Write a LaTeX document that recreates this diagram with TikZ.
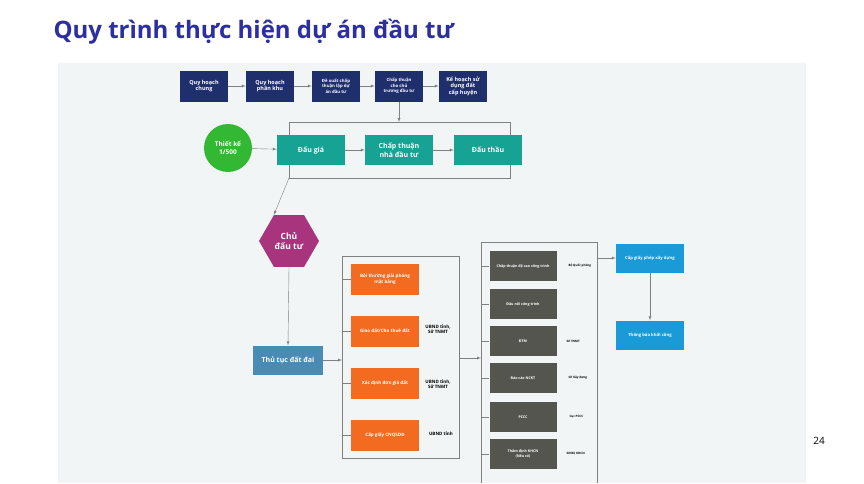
\documentclass[tikz,border=0pt]{standalone}
\usepackage{fontspec}
\setmainfont{Open Sans}
\usetikzlibrary{shapes.geometric}
\definecolor{navy}{HTML}{1F2F6E}
\definecolor{titleblue}{HTML}{2B2FA0}
\definecolor{tealc}{HTML}{16A394}
\definecolor{hexc}{HTML}{A8347E}
\definecolor{landc}{HTML}{4A8BB5}
\definecolor{orangec}{HTML}{F26B21}
\definecolor{darkc}{HTML}{555550}
\definecolor{bluec}{HTML}{1A9AD6}
\definecolor{panel}{HTML}{F2F5F5}
\tikzset{
  box/.style={draw=none,text=white,font=\bfseries,align=center,inner sep=1pt},
  plan/.style={box,fill=navy,minimum width=48pt,minimum height=31pt,font=\bfseries\fontsize{5.5}{6.5}\selectfont},
  phase/.style={box,fill=tealc,minimum width=68pt,minimum height=30pt,font=\bfseries\fontsize{7}{8.5}\selectfont},
  landbox/.style={box,fill=orangec,minimum width=68pt,minimum height=31pt,font=\bfseries\fontsize{4.5}{6}\selectfont},
  workbox/.style={box,fill=darkc,minimum width=67pt,minimum height=30pt,font=\bfseries\fontsize{3.6}{5}\selectfont},
  permit/.style={box,fill=bluec,minimum width=68pt,minimum height=29pt,font=\bfseries\fontsize{4.2}{5}\selectfont},
  note/.style={font=\bfseries\fontsize{4.5}{5.5}\selectfont,align=center},
  tiny/.style={font=\bfseries\fontsize{3}{4}\selectfont,anchor=west},
  conn/.style={draw=gray,thin},
  arr/.style={conn,-latex}
}
\begin{document}
\begin{tikzpicture}[x=1pt,y=-1pt]
    \useasboundingbox (0,0) rectangle (864,483);
    \fill[white] (0,0) rectangle (864,483);
    \fill[panel] (58,63) rectangle (806,483);
    \node[anchor=west,text=titleblue,font=\bfseries\fontsize{24}{28}\selectfont] (title) at (50,32) {Quy trình thực hiện dự án đầu tư};
    \node[font=\fontsize{10}{12}\selectfont] (page) at (819,441) {24};
    % planning chain
    \node[plan] (p1) at (204,86) {Quy hoạch\\chung};
    \node[plan] (p2) at (270,86) {Quy hoạch\\phân khu};
    \node[plan,font=\bfseries\fontsize{4.3}{5.5}\selectfont] (p3) at (336,86) {Đề xuất chấp\\thuận lập dự\\án đầu tư};
    \node[plan,font=\bfseries\fontsize{4.3}{5.5}\selectfont] (p4) at (399,86) {Chấp thuận\\cho chủ\\trương đầu tư};
    \node[plan] (p5) at (463,86) {Kế hoạch sử\\dụng đất\\cấp huyện};
    \foreach \a/\b in {p1/p2,p2/p3,p3/p4,p4/p5}
        \draw[arr] (\a) -- (\b);
    % selection frame
    \coordinate (ftl) at (289,122);
    \coordinate (fbr) at (510,178);
    \draw[conn] (ftl) rectangle (fbr);
    \draw[arr] (p4) -- (399,122);
    \node[circle,fill=green!65!black!80,text=white,font=\bfseries\fontsize{6.5}{8}\selectfont,minimum size=48pt,inner sep=0pt,align=center] (design) at (228,148) {Thiết kế\\1/500};
    \node[phase] (auction) at (311,150) {Đấu giá};
    \node[phase] (approve) at (399,150) {Chấp thuận\\nhà đầu tư};
    \node[phase] (bid) at (488,150) {Đấu thầu};
    \draw[arr] (design) -- (auction);
    \draw[arr] (auction) -- (approve);
    \draw[arr] (approve) -- (bid);
    % investor
    \node[regular polygon,regular polygon sides=6,fill=hexc,text=white,minimum size=60pt,inner sep=0pt,align=center,font=\bfseries\fontsize{8.5}{10}\selectfont] (owner) at (289,241) {Chủ\\đấu tư};
    \draw[arr] (289,178) -- (owner.corner 2 |- owner.north);
    \node[box,fill=landc,minimum width=70pt,minimum height=29pt,font=\bfseries\fontsize{7}{8}\selectfont] (land) at (288,360) {Thủ tục đất đai};
    \draw[arr] (owner.south) -- (land.north);
    % land procedures
    \draw[conn] (342,256) rectangle (459,458);
    \draw[arr] (land) -- (342,360);
    \node[landbox] (l1) at (385,279) {Bồi thường giải phóng\\mặt bằng};
    \node[landbox] (l2) at (385,331) {Giao đất/Cho thuê đất};
    \node[landbox] (l3) at (385,383) {Xác định đơn giá đất};
    \node[landbox] (l4) at (385,435) {Cấp giấy CNQSDĐ};
    \foreach \n in {l1,l2,l3,l4}
        \draw[conn] (342,0 |- \n.west) -- (\n.west);
    \node[note] (u2) at (438,329) {UBND tỉnh,\\Sở TNMT};
    \node[note] (u3) at (438,384) {UBND tỉnh,\\Sở TNMT};
    \node[note] (u4) at (441,434) {UBND tỉnh};
    % works procedures
    \draw[conn] (481,483) |- (597,242) -- (597,483);
    \draw[arr] (459,358) -- (481,358);
    \node[workbox] (w1) at (523,266) {Chấp thuận độ cao công trình};
    \node[workbox] (w2) at (523,304) {Đấu nối công trình};
    \node[workbox] (w3) at (523,341) {ĐTM};
    \node[workbox] (w4) at (523,378) {Báo cáo NCKT};
    \node[workbox] (w5) at (523,417) {PCCC};
    \node[workbox] (w6) at (523,454) {Thẩm định KHCN\\(Nếu có)};
    \foreach \n in {w1,w2,w3,w4,w5,w6}
        \draw[conn] (481,0 |- \n.west) -- (\n.west);
    \node[tiny] (a1) at (565,266) {Bộ Quốc phòng};
    \node[tiny] (a3) at (563,341) {Sở TNMT};
    \node[tiny] (a4) at (565,378) {Sở Xây dựng};
    \node[tiny] (a5) at (566,417) {Cục PCCC};
    \node[tiny] (a6) at (563,454) {Sở/Bộ KHCN};
    % permit
    \node[permit] (lic) at (650,258) {Cấp giấy phép xây dựng};
    \node[permit] (start) at (650,335) {Thông báo khởi công};
    \draw[arr] (597,258) -- (lic);
    \draw[arr] (lic) -- (start);
\end{tikzpicture}
\end{document}
